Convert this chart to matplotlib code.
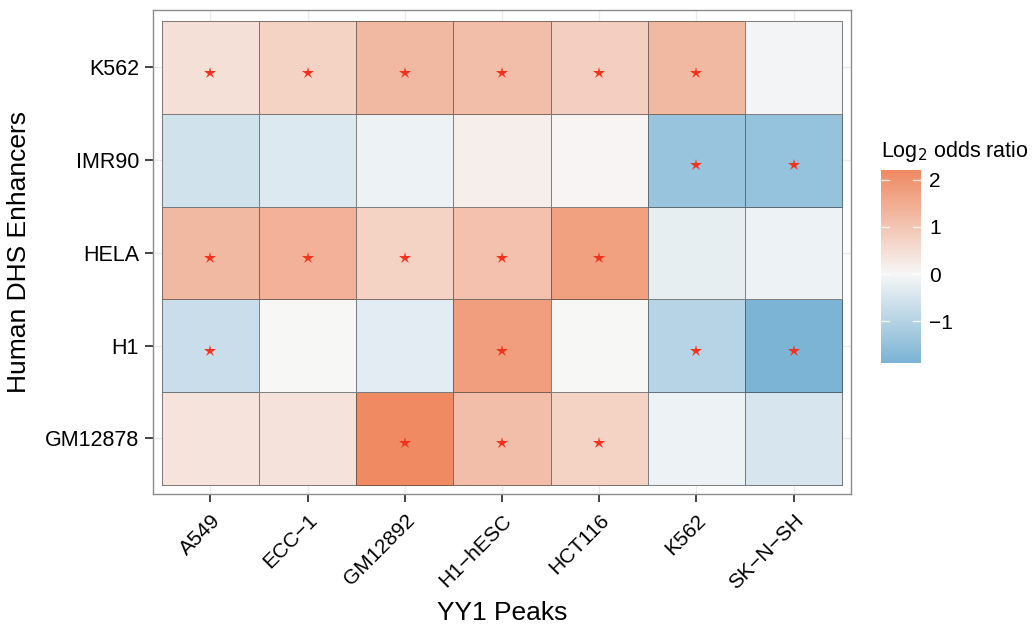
import numpy as np
import matplotlib
matplotlib.use('Agg')
import matplotlib.pyplot as plt
from matplotlib.colors import LinearSegmentedColormap, Normalize

plt.rcParams['font.family'] = ['Liberation Sans', 'DejaVu Sans']

# enhancer sets (rows, top to bottom) and YY1 peak sets (columns)
enhancers = ['K562', 'IMR90', 'HELA', 'H1', 'GM12878']
peaks = ['A549', 'ECC\u22121', 'GM12892', 'H1\u2212hESC', 'HCT116', 'K562', 'SK\u2212N\u2212SH']

# log2 odds ratio
log_odds = np.array([
    [0.45, 0.75, 1.25, 1.15, 0.80, 1.25, -0.08],
    [-0.60, -0.40, -0.15, 0.18, 0.06, -1.45, -1.50],
    [1.25, 1.40, 0.75, 1.10, 1.75, -0.25, -0.15],
    [-0.70, 0.00, -0.30, 1.80, 0.00, -1.00, -1.89],
    [0.40, 0.42, 2.21, 1.15, 0.75, -0.15, -0.50],
])
signif = np.array([
    [1, 1, 1, 1, 1, 1, 0],
    [0, 0, 0, 0, 0, 1, 1],
    [1, 1, 1, 1, 1, 0, 0],
    [1, 0, 0, 1, 0, 1, 1],
    [0, 0, 1, 1, 1, 0, 0],
], dtype=bool)

cbar_ticks = [-1, 0, 1, 2]

lim = np.abs(log_odds).max()
cmap = LinearSegmentedColormap.from_list('rdbu2', ['#67a9cf', '#f7f7f7', '#ef8a62'])
norm = Normalize(-lim, lim)

fig = plt.figure(figsize=(10.33, 6.26), dpi=100)
ax = fig.add_axes([153 / 1033, 1 - 494 / 626, 698 / 1033, 484 / 626])

n_rows, n_cols = log_odds.shape
data = log_odds[::-1]  # bottom row first
xe = np.arange(n_cols + 1) + 0.5
ye = np.arange(n_rows + 1) + 0.5
ax.pcolormesh(xe, ye, data, cmap=cmap, norm=norm,
              edgecolors=(0.2, 0.2, 0.2, 0.6), linewidth=0.7, zorder=2)

# significance stars sit a little below the tile centre
rr, cc = np.nonzero(signif[::-1])
ax.plot(cc + 1, rr + 1 - 0.055, linestyle='none', marker='*', markersize=9,
        color='#f4311c', markeredgewidth=0, zorder=3)

ax.set_xlim(0.41, n_cols + 0.59)
ax.set_ylim(0.4, n_rows + 0.62)
ax.set_xticks(np.arange(1, n_cols + 1))
ax.set_yticks(np.arange(1, n_rows + 1))
ax.set_xticklabels(peaks, rotation=45, ha='right', rotation_mode='anchor', fontsize=15)
ax.set_yticklabels(enhancers[::-1], fontsize=15.5)
ax.tick_params(length=6, width=1.2, color='#222222', pad=4)
ax.tick_params(axis='x', pad=6)
ax.grid(True, color='#ebebeb', linewidth=1, zorder=0)
ax.set_axisbelow(True)
for s in ax.spines.values():
    s.set_color('#8c8c8c')
    s.set_linewidth(1)

ax.set_xlabel('YY1 Peaks', fontsize=19, labelpad=6)
ax.set_ylabel('Human DHS Enhancers', fontsize=19, labelpad=10)

# legend colourbar, drawn by hand so it covers only the data range
vmin, vmax = log_odds.min(), log_odds.max()
cax = fig.add_axes([881 / 1033, 1 - 363 / 626, 40 / 1033, 193 / 626])
grad = np.linspace(vmin, vmax, 256).reshape(-1, 1)
cax.imshow(grad, cmap=cmap, norm=norm, aspect='auto', origin='lower',
           extent=(0, 1, vmin, vmax))
cax.set_xlim(0, 1)
cax.set_ylim(vmin, vmax)
for t in cbar_ticks:
    cax.plot([0, 0.2], [t, t], color='white', lw=1, alpha=0.8)
    cax.plot([0.8, 1], [t, t], color='white', lw=1, alpha=0.8)
cax.set_xticks([])
cax.yaxis.tick_right()
cax.set_yticks(cbar_ticks)
cax.set_yticklabels(['\u22121', '0', '1', '2'], fontsize=15)
cax.tick_params(axis='y', length=0, pad=6)
for s in cax.spines.values():
    s.set_visible(False)
fig.text(881 / 1033, 1 - 152 / 626, 'Log$_2$ odds ratio', fontsize=15.5, va='center', ha='left')

fig.savefig('out.png', dpi=100)
